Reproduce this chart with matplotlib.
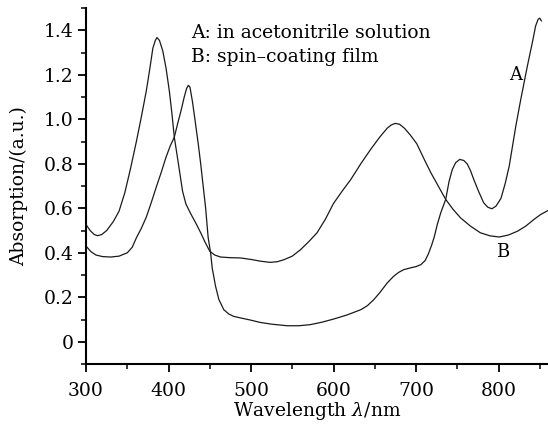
import matplotlib
matplotlib.use("Agg")
import matplotlib.pyplot as plt
from matplotlib.ticker import MultipleLocator, FixedLocator

plt.rcParams['font.family'] = ['DejaVu Serif']
plt.rcParams['mathtext.fontset'] = 'dejavuserif'

# Curve A: in acetonitrile solution
wl_a = [300, 306, 312, 320, 330, 340, 350, 356, 361, 367, 373, 379, 385, 391, 397,
        402, 407, 411, 415, 419, 422, 424, 426, 429, 432, 436, 439, 442, 445, 448,
        451, 453, 457, 461, 467, 473, 479, 490, 500, 511, 525, 544, 558, 572, 586,
        600, 616, 633, 641, 649, 657, 665, 673, 679, 685, 693, 700, 706, 711, 715,
        719, 722, 726, 730, 736, 740, 744, 748, 753, 758, 762, 766, 770, 776, 782,
        787, 792, 797, 803, 808, 813, 817, 821, 827, 831, 835, 841, 845, 848, 850, 852]
abs_a = [0.43, 0.405, 0.39, 0.383, 0.381, 0.385, 0.40, 0.425, 0.467, 0.51, 0.56, 0.625, 0.694, 0.76, 0.83,
         0.88, 0.92, 0.98, 1.037, 1.10, 1.14, 1.153, 1.145, 1.08, 1.00, 0.89, 0.80, 0.70, 0.60, 0.47,
         0.40, 0.33, 0.25, 0.19, 0.144, 0.125, 0.114, 0.105, 0.097, 0.087, 0.079, 0.072, 0.072, 0.077, 0.088,
         0.102, 0.12, 0.144, 0.162, 0.19, 0.225, 0.264, 0.295, 0.312, 0.324, 0.332, 0.338, 0.347, 0.365, 0.395,
         0.435, 0.47, 0.53, 0.58, 0.64, 0.72, 0.775, 0.805, 0.82, 0.815, 0.80, 0.77, 0.73, 0.675, 0.625,
         0.605, 0.598, 0.61, 0.645, 0.71, 0.79, 0.88, 0.97, 1.09, 1.165, 1.24, 1.345, 1.42, 1.45, 1.455, 1.443]

# Curve B: spin-coating film
wl_b = [300, 305, 310, 314, 319, 325, 333, 340, 347, 354, 361, 367, 373, 377, 381,
        384, 386, 389, 393, 397, 401, 404, 407, 412, 417, 421, 427, 434, 439, 444,
        450, 456, 463, 475, 487, 500, 512, 523, 532, 540, 550, 560, 570, 580, 590,
        600, 611, 621, 633, 645, 656, 665, 670, 675, 680, 686, 693, 701, 710, 718,
        727, 736, 745, 754, 766, 778, 790, 801, 812, 823, 833, 843, 851, 860]
abs_b = [0.527, 0.50, 0.482, 0.477, 0.482, 0.50, 0.54, 0.587, 0.67, 0.78, 0.90, 1.01, 1.127, 1.22, 1.32,
         1.355, 1.368, 1.355, 1.308, 1.23, 1.127, 1.03, 0.92, 0.80, 0.677, 0.62, 0.575, 0.527, 0.49, 0.45,
         0.407, 0.39, 0.381, 0.378, 0.377, 0.37, 0.362, 0.357, 0.36, 0.369, 0.385, 0.414, 0.45, 0.49, 0.55,
         0.622, 0.68, 0.73, 0.80, 0.865, 0.92, 0.96, 0.975, 0.982, 0.978, 0.96, 0.93, 0.89, 0.82, 0.76,
         0.70, 0.64, 0.595, 0.557, 0.52, 0.49, 0.476, 0.471, 0.48, 0.497, 0.52, 0.55, 0.572, 0.59]

x_ticks = [300, 400, 500, 600, 700, 800]
y_ticks = [0, 0.2, 0.4, 0.6, 0.8, 1.0, 1.2, 1.4]
y_ticklabels = ['0', '0.2', '0.4', '0.6', '0.8', '1.0', '1.2', '1.4']

fig = plt.figure(figsize=(5.48, 4.30), dpi=100)
ax = fig.add_axes([0.157, 0.1535, 0.843, 0.8275])

col = '#1a1a1a'
ax.plot(wl_a, abs_a, color=col, lw=0.9)
ax.plot(wl_b, abs_b, color=col, lw=0.9)

ax.set_xlim(300, 860)
ax.set_ylim(-0.1, 1.5)

for s in ['top', 'right']:
    ax.spines[s].set_visible(False)
for s in ['left', 'bottom']:
    ax.spines[s].set_linewidth(1.5)
    ax.spines[s].set_color('black')

ax.xaxis.set_major_locator(FixedLocator(x_ticks))
ax.xaxis.set_minor_locator(MultipleLocator(50))
ax.yaxis.set_major_locator(FixedLocator(y_ticks))
ax.set_yticklabels(y_ticklabels)
ax.yaxis.set_minor_locator(MultipleLocator(0.1))
ax.tick_params(which='major', direction='out', length=6, width=1.3, labelsize=13.5)
ax.tick_params(which='minor', direction='out', length=3.5, width=1.1)
ax.tick_params(axis='y', which='major', pad=3)
ax.tick_params(axis='x', which='major', pad=7)

ax.set_xlabel(r'Wavelength $\lambda$/nm', fontsize=13.5, labelpad=0)
ax.set_ylabel('Absorption/(a.u.)', fontsize=13.5, labelpad=11)

ax.text(0.227, 0.955, 'A: in acetonitrile solution\nB: spin\u2013coating film',
        transform=ax.transAxes, fontsize=13.5, va='top', ha='left', linespacing=1.4)
ax.text(821, 1.2, 'A', fontsize=13, ha='center', va='center')
ax.text(805, 0.405, 'B', fontsize=13, ha='center', va='center')

fig.savefig('out.png', dpi=100)
